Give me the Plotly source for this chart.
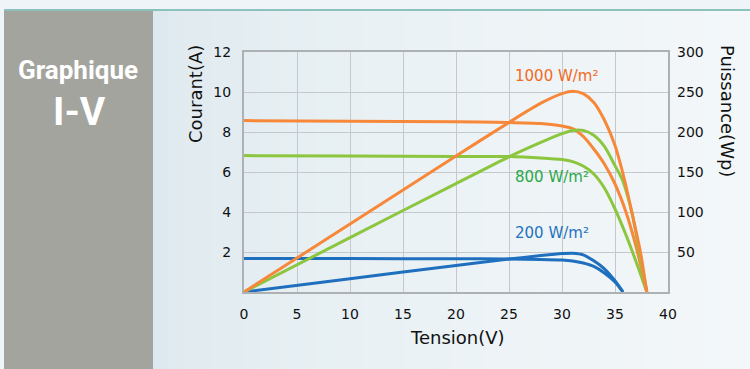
import plotly.graph_objects as go

# ---------------- data ----------------
v_i1000 = [0, 10, 20, 25, 28, 29, 30, 31, 32, 33, 34, 35, 36, 37, 38]
i_1000 = [8.57, 8.54, 8.51, 8.48, 8.43, 8.38, 8.3, 8.17, 7.78, 7.15, 6.4, 5.4, 4.05, 2.25, 0]

v_p1000 = [0, 10, 20, 25, 28, 30, 31, 32, 33, 34, 35, 35.9, 36.6, 37.4, 38]
p_1000 = [0, 85, 170, 212, 236, 248, 251, 248, 237, 215, 183, 140, 99, 50, 0]

v_i800 = [0, 10, 20, 25, 28, 30, 31, 32, 33, 34, 35, 36, 37, 38]
i_800 = [6.82, 6.8, 6.78, 6.77, 6.7, 6.62, 6.52, 6.3, 5.9, 5.2, 4.15, 2.9, 1.5, 0]

v_p800 = [0, 10, 20, 25, 28, 30, 31, 32, 33, 34, 35, 35.7, 36.6, 37.3, 38]
p_800 = [0, 68, 135.5, 169, 187, 198, 202, 202, 196, 182, 158, 140, 99, 50, 0]

v_i200 = [0, 10, 20, 25, 28, 30, 31, 32, 33, 34, 35, 35.75]
i_200 = [1.68, 1.67, 1.66, 1.65, 1.63, 1.6, 1.55, 1.45, 1.28, 0.95, 0.5, 0]

v_p200 = [0, 10, 20, 25, 28, 30, 31, 32, 33, 34, 35, 35.75]
p_200 = [0, 16.7, 33.2, 41.2, 45.5, 48, 48.5, 46.5, 39, 29, 14, 0]

x_ticks = [0, 5, 10, 15, 20, 25, 30, 35, 40]
i_ticks = [2, 4, 6, 8, 10, 12]
p_ticks = [50, 100, 150, 200, 250, 300]

series_labels = ["1000 W/m²", "800 W/m²", "200 W/m²"]

# ---------------- styling ----------------
ORANGE = "#F7883A"
GREEN = "#8CC63F"
BLUE = "#1F6FBF"
LBL_COLORS = ["#F26A21", "#2BA84A", "#1E73BE"]
FONT = "DejaVu Sans"

W, H = 750, 369
PL, PR, PT, PB = 244, 668, 52, 292


def px(x):
    return (x - PL) / (PR - PL)


def py(y):
    return (PB - y) / (PB - PT)


fig = go.Figure()
lw = 3
sm = 0.7
fig.add_trace(go.Scatter(x=v_i200, y=i_200, mode="lines", line=dict(color=BLUE, width=lw, shape="spline", smoothing=sm), yaxis="y"))
fig.add_trace(go.Scatter(x=v_p200, y=p_200, mode="lines", line=dict(color=BLUE, width=lw, shape="spline", smoothing=sm), yaxis="y2"))
fig.add_trace(go.Scatter(x=v_i800, y=i_800, mode="lines", line=dict(color=GREEN, width=lw, shape="spline", smoothing=sm), yaxis="y"))
fig.add_trace(go.Scatter(x=v_p800, y=p_800, mode="lines", line=dict(color=GREEN, width=lw, shape="spline", smoothing=sm), yaxis="y2"))
fig.add_trace(go.Scatter(x=v_i1000, y=i_1000, mode="lines", line=dict(color=ORANGE, width=lw, shape="spline", smoothing=sm), yaxis="y"))
fig.add_trace(go.Scatter(x=v_p1000, y=p_1000, mode="lines", line=dict(color=ORANGE, width=lw, shape="spline", smoothing=sm), yaxis="y2"))

GRID = "#c6c9cb"
BORDER = "#aeb1b3"

fig.update_layout(
    width=W, height=H,
    margin=dict(l=PL, r=W - PR, t=PT, b=H - PB),
    paper_bgcolor="#eef4f7",
    plot_bgcolor="#f3f7f9",
    showlegend=False,
    font=dict(family=FONT, size=14, color="#111111"),
    xaxis=dict(range=[0, 40], tickvals=x_ticks, showgrid=True, gridcolor=GRID, gridwidth=1,
               zeroline=False, showline=True, linecolor=BORDER, linewidth=2, mirror=True,
               ticks="", ticklabelstandoff=8, tickfont=dict(size=14)),
    yaxis=dict(range=[0, 12], tickvals=i_ticks, showgrid=True, gridcolor=GRID, gridwidth=1,
               zeroline=False, showline=True, linecolor=BORDER, linewidth=2, mirror=True,
               ticks="", ticklabelstandoff=8, tickfont=dict(size=14)),
    yaxis2=dict(range=[0, 300], tickvals=p_ticks, overlaying="y", side="right", showgrid=False,
                zeroline=False, showline=False, ticks="", ticklabelstandoff=8, tickfont=dict(size=14)),
)

shapes = []
# smooth background gradient (light blue on the left to near white on the right)
c0 = (0xDD, 0xE9, 0xEE)
c1 = (0xF3, 0xF7, 0xF9)
n = 40
x_start, x_end = 153, 750
for k in range(n):
    t = k / (n - 1)
    t = t ** 0.6
    col = "rgb(%d,%d,%d)" % tuple(round(a + (b - a) * t) for a, b in zip(c0, c1))
    xa = x_start + (x_end - x_start) * k / n
    xb = x_start + (x_end - x_start) * (k + 1) / n + 1
    shapes.append(dict(type="rect", xref="paper", yref="paper", x0=px(xa), x1=px(xb), y0=py(H + 2), y1=py(10),
                       fillcolor=col, line=dict(width=0), layer="below"))
# grey panel
shapes.append(dict(type="rect", xref="paper", yref="paper", x0=px(4), x1=px(153), y0=py(H + 2), y1=py(10),
                   fillcolor="#a4a49e", line=dict(width=0), layer="below"))
# teal top line
shapes.append(dict(type="line", xref="paper", yref="paper", x0=px(4), x1=px(W), y0=py(10), y1=py(10),
                   line=dict(color="#8cc2bd", width=2), layer="below"))
fig.update_layout(shapes=shapes)

PANEL_FONT = "Roboto, Liberation Sans, sans-serif"
ann = []
ann.append(dict(text="<b>Graphique</b>", x=px(78), y=py(70), xref="paper", yref="paper", showarrow=False,
                xanchor="center", yanchor="middle", font=dict(family=PANEL_FONT, size=26, color="white")))
ann.append(dict(text="<b>I-V</b>", x=px(79), y=py(112), xref="paper", yref="paper", showarrow=False,
                xanchor="center", yanchor="middle", font=dict(family=PANEL_FONT, size=39, color="white")))
ann.append(dict(text="Courant(A)", x=px(195), y=py(94), xref="paper", yref="paper", showarrow=False,
                textangle=-90, xanchor="center", yanchor="middle", font=dict(family=FONT, size=18, color="#111111")))
ann.append(dict(text="Puissance(Wp)", x=px(728), y=py(111), xref="paper", yref="paper", showarrow=False,
                textangle=90, xanchor="center", yanchor="middle", font=dict(family=FONT, size=18, color="#111111")))
ann.append(dict(text="Tension(V)", x=px(457), y=py(337), xref="paper", yref="paper", showarrow=False,
                xanchor="center", yanchor="middle", font=dict(family=FONT, size=18, color="#111111")))
for lbl, col, yy in zip(series_labels, LBL_COLORS, [76, 177, 233]):
    ann.append(dict(text=lbl, x=px(513), y=py(yy), xref="paper", yref="paper", showarrow=False,
                    xanchor="left", yanchor="middle", font=dict(family=FONT, size=15, color=col)))
fig.update_layout(annotations=ann)

fig.write_html("out.html", config={"displayModeBar": False},
               post_script="document.body.style.margin='0';document.body.style.overflow='hidden';")
